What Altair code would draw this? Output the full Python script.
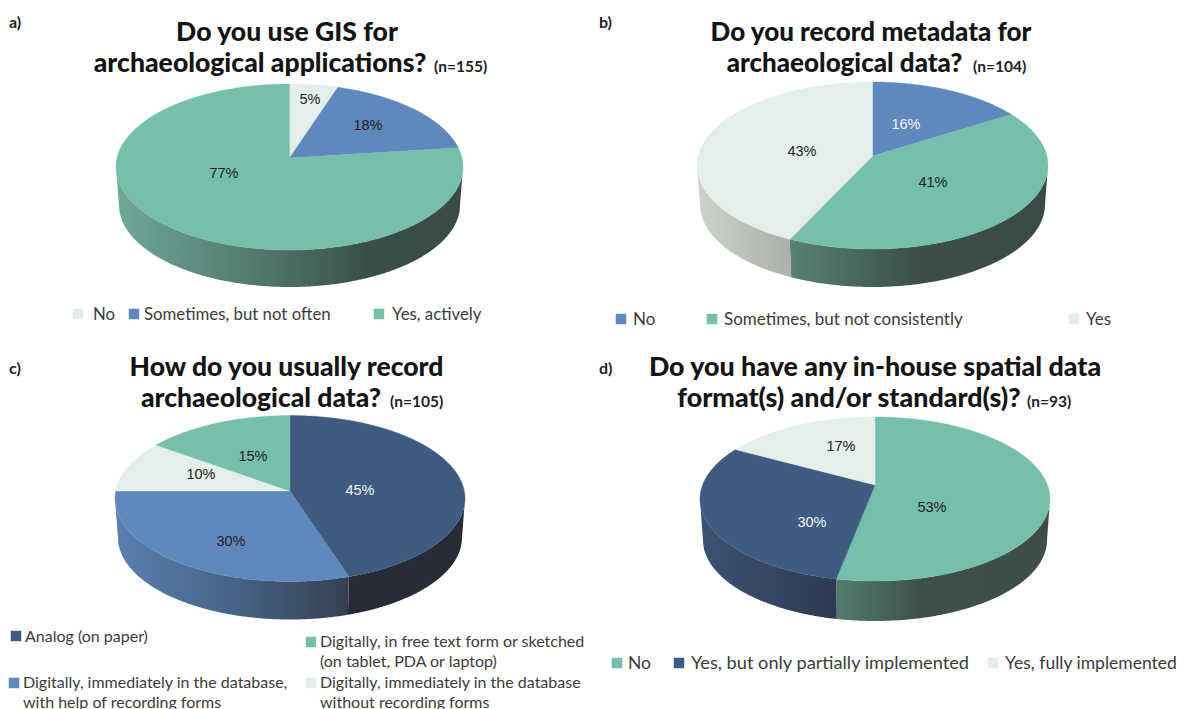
import math
import altair as alt
import pandas as pd

TEAL, BLUE, NAVY, PALE = "#76BFAC", "#5F89BC", "#3F5B82", "#E4EFEA"

# ---- values
a_labels = ["No", "Sometimes, but not often", "Yes, actively"]
a_values = [5, 18, 77]
b_labels = ["No", "Sometimes, but not consistently", "Yes"]
b_values = [16, 41, 43]
c_labels = ["Analog (on paper)", "Digitally, immediately in the database, with help of recording forms",
            "Digitally, immediately in the database without recording forms",
            "Digitally, in free text form or sketched (on tablet, PDA or laptop)"]
c_values = [45, 30, 10, 15]
d_labels = ["No", "Yes, but only partially implemented", "Yes, fully implemented"]
d_values = [53, 30, 17]

# ---- styling / layout
PANELS = [
    dict(tag="a)", tag_xy=(9, 23), dom_x=(8, 593), dom_y=(345, 8), values=a_values,
         colors=[PALE, BLUE, TEAL], geom=(289.5, 167, 173.5, 83, 158, 38),
         title=[("Do you use GIS for", 287, 33), ("archaeological applications?", 260, 64)],
         title_size=26.6, legend_size=[16.8, 16.8, 16.8],
         n=("(n=155)", 434, 67),
         label_xy=[(310, 100), (368, 126), (224, 174)],
         label_col=["#222", "#222", "#222"],
         walls=[None, None, [("#6FA899", 0), ("#47675D", .55), ("#3A4F49", .72), ("#384A45", 1)]],
         legend=[(78, 314, 93, 315, [a_labels[0]], 0), (134, 314, 144, 315, [a_labels[1]], 1),
                 (379, 314, 392, 315, [a_labels[2]], 2)]),
    dict(tag="b)", tag_xy=(599, 23), dom_x=(593, 1179), dom_y=(345, 8), values=b_values,
         colors=[BLUE, TEAL, PALE], geom=(872.5, 165.5, 175.5, 83.5, 156, 39),
         title=[("Do you record metadata for", 871, 33), ("archaeological data?", 844.5, 64)],
         title_size=26, legend_size=[17, 17, 17],
         n=("(n=104)", 973, 67),
         label_xy=[(906, 125), (933, 183), (802, 152)],
         label_col=["#F2F2F2", "#222", "#222"],
         walls=[None, [("#578273", 0), ("#3C4F49", .5), ("#3A4A45", 1)], [("#CDD2CC", 0), ("#ADB0AA", 1)]],
         legend=[(621, 319, 633, 320, [b_labels[0]], 0), (712, 319, 724, 320, [b_labels[1]], 1),
                 (1074, 319, 1086, 320, [b_labels[2]], 2)]),
    dict(tag="c)", tag_xy=(9, 369), dom_x=(8, 593), dom_y=(701, 345), values=c_values,
         colors=[NAVY, BLUE, PALE, TEAL], geom=(290, 498.5, 175, 83, 491, 39),
         title=[("How do you usually record", 286.5, 368), ("archaeological data?", 261, 399)],
         title_size=26.5, legend_size=[16, 16, 16, 16],
         n=("(n=105)", 390, 402),
         label_xy=[(360, 491), (231, 542), (201, 475), (253, 457)],
         label_col=["#F2F2F2", "#222", "#222", "#222"],
         walls=[[("#262B36", 0), ("#262B36", 1)], [("#5A80AE", 0), ("#466488", .5), ("#363F50", 1)], None, None],
         legend=[(16, 636, 25, 637, ["Analog (on paper)"], 0),
                 (14, 683, 23, 683, ["Digitally, immediately in the database,", "with help of recording forms"], 1),
                 (311, 683, 320, 683, ["Digitally, immediately in the database", "without recording forms"], 2),
                 (311, 642, 320, 642, ["Digitally, in free text form or sketched", "(on tablet, PDA or laptop)"], 3)]),
    dict(tag="d)", tag_xy=(599, 369), dom_x=(593, 1179), dom_y=(701, 345), values=d_values,
         colors=[TEAL, NAVY, PALE], geom=(875, 499, 175, 82, 485, 41),
         title=[("Do you have any in-house spatial data", 875, 368), ("format(s) and/or standard(s)?", 849, 399)],
         title_size=26.8, legend_size=[17.5, 18.2, 17.5],
         n=("(n=93)", 1027, 402),
         label_xy=[(932, 508), (812, 523), (841, 447)],
         label_col=["#222", "#F2F2F2", "#222"],
         walls=[[("#527C6C", 0), ("#3F5048", .4), ("#3D4E48", 1)], [("#3D5273", 0), ("#2D3A52", 1)], None],
         legend=[(617, 663, 628, 664, [d_labels[0]], 0), (679, 663, 691, 664, [d_labels[1]], 1),
                 (993, 663, 1005, 664, [d_labels[2]], 2)]),
]
PANEL_W = {0: 585, 1: 586}
PANEL_H = {0: 337, 1: 356}
TITLE_FONT = "Lato"
LEGEND_FONT = "Lato"
TEXT_COL = "#3B3B3B"


def rim(theta_deg, off):
    """Point of the tilted disc's rim for a share angle measured clockwise from the top."""
    th = math.radians(theta_deg)
    u, v = math.sin(th), -math.cos(th)
    d = 1 + off * v
    return u * math.sqrt(1 - off * off) / d, (v + off) / d


def panel(p):
    cx, cy, rx, ry, apex_y, depth = p["geom"]
    off = -(cy - apex_y) / ry
    sx = alt.Scale(domain=list(p["dom_x"]), nice=False, zero=False)
    sy = alt.Scale(domain=list(p["dom_y"]), nice=False, zero=False)
    X = alt.X("x:Q", scale=sx, axis=None)
    Y = alt.Y("y:Q", scale=sy, axis=None)
    layers = []
    start = 0.0
    tops = []
    for val, col, wall in zip(p["values"], p["colors"], p["walls"]):
        end = start + val * 3.6
        steps = max(2, int((end - start) * 2))
        angs = [start + (end - start) * i / steps for i in range(steps + 1)]
        rims = [rim(a, off) for a in angs]
        top = [dict(x=cx, y=apex_y, o=0)] + [
            dict(x=cx + u * rx, y=cy + v * ry, o=i + 1) for i, (u, v) in enumerate(rims)]
        tops.append((top, col))
        front = [r for r in rims if r[1] >= 0]
        if wall and len(front) > 1:
            rows = [dict(x=cx + u * rx, y=cy + v * ry, o=i) for i, (u, v) in enumerate(front)]
            k = len(rows)
            for j, (u, v) in enumerate(reversed(front)):
                rows.append(dict(x=cx + u * (rx - 3), y=cy + depth + v * (ry - 1), o=k + j))
            grad = alt.Gradient(gradient="linear", x1=0, x2=1, y1=0, y2=0,
                                stops=[alt.GradientStop(color=c, offset=o) for c, o in wall])
            layers.append(alt.Chart(pd.DataFrame(rows)).mark_line(
                interpolate="linear-closed", fill=grad, strokeOpacity=0
            ).encode(x=X, y=Y, order="o:Q"))
        start = end
    for top, col in tops:
        layers.append(alt.Chart(pd.DataFrame(top)).mark_line(
            interpolate="linear-closed", fill=col, stroke=col, strokeWidth=0.4
        ).encode(x=X, y=Y, order="o:Q"))

    # percent labels
    lab = pd.DataFrame([dict(x=xy[0], y=xy[1], t=f"{v}%", c=c) for v, xy, c in
                        zip(p["values"], p["label_xy"], p["label_col"])])
    layers.append(alt.Chart(lab).mark_text(font="Liberation Sans", fontSize=14.5, align="center", baseline="middle")
                  .encode(x=X, y=Y, text="t:N", color=alt.Color("c:N", scale=None)))

    # titles
    line1, line2 = p["title"]
    t1 = pd.DataFrame([dict(x=line1[1], y=line1[2], t=line1[0]), dict(x=line2[1], y=line2[2], t=line2[0])])
    layers.append(alt.Chart(t1).mark_text(font=TITLE_FONT, fontWeight=900, fontSize=p["title_size"], align="center",
                                          baseline="middle", color="#141414").encode(x=X, y=Y, text="t:N"))
    nd = pd.DataFrame([dict(x=p["n"][1], y=p["n"][2], t=p["n"][0])])
    layers.append(alt.Chart(nd).mark_text(font=TITLE_FONT, fontWeight=700, fontSize=15.5, align="left",
                                          baseline="middle", color="#222").encode(x=X, y=Y, text="t:N"))
    tg = pd.DataFrame([dict(x=p["tag_xy"][0], y=p["tag_xy"][1], t=p["tag"])])
    layers.append(alt.Chart(tg).mark_text(font=TITLE_FONT, fontWeight=700, fontSize=16, align="left",
                                          baseline="middle", color="#222").encode(x=X, y=Y, text="t:N"))

    # legend
    sw, tx = [], []
    for n, (sxp, syp, txp, typ, lines, idx) in enumerate(p["legend"]):
        sw.append(dict(x=sxp, y=syp, c=p["colors"][idx]))
        for i, l in enumerate(lines):
            tx.append(dict(x=txp, y=typ + i * 20, t=l, s=p["legend_size"][n]))
    layers.append(alt.Chart(pd.DataFrame(sw)).mark_square(size=110, opacity=1).encode(
        x=X, y=Y, color=alt.Color("c:N", scale=None)))
    layers.append(alt.Chart(pd.DataFrame(tx)).mark_text(font=LEGEND_FONT, align="left",
                                                        baseline="middle", color=TEXT_COL).encode(
        x=X, y=Y, text="t:N", size=alt.Size("s:Q", scale=None)))
    return alt.layer(*layers)


def sized(i):
    return panel(PANELS[i]).properties(width=PANEL_W[i % 2], height=PANEL_H[i // 2])


chart = alt.concat(sized(0), sized(1), sized(2), sized(3), columns=2, spacing=0, bounds="flush").properties(
    padding=0, background="white"
).configure_view(stroke=None)

chart.save("out.html", embed_options={"renderer": "svg", "actions": False})
